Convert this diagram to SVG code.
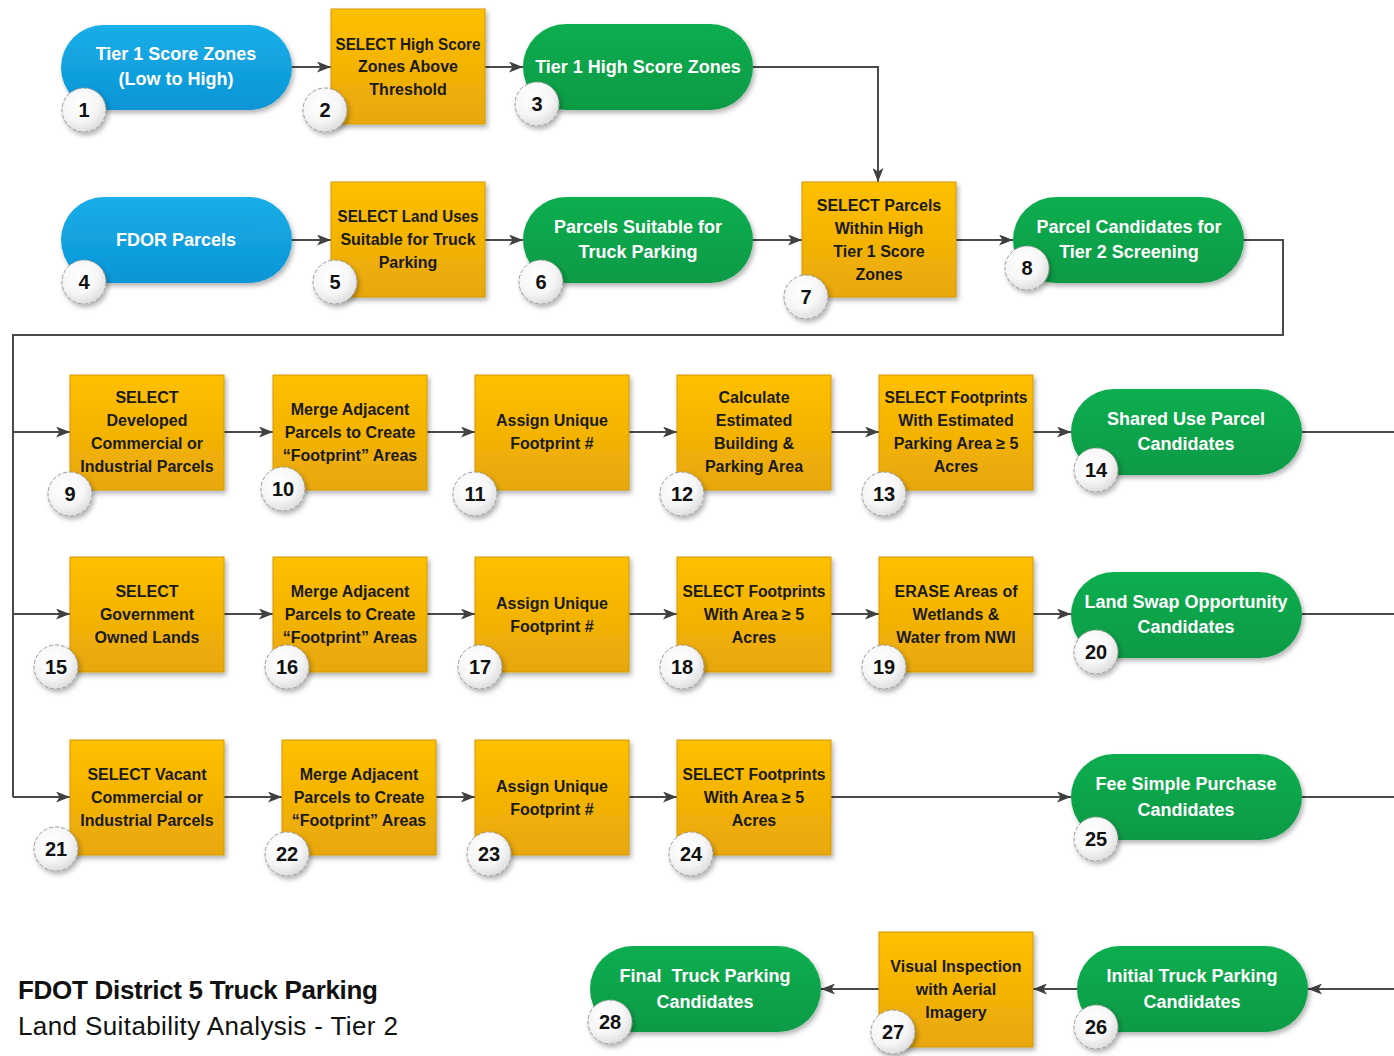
<svg xmlns="http://www.w3.org/2000/svg" width="1394" height="1056" viewBox="0 0 1394 1056">
<defs>
<linearGradient id="gOr" x1="0" y1="0" x2="0" y2="1"><stop offset="0" stop-color="#FFC000"/><stop offset="1" stop-color="#E8A70A"/></linearGradient>
<linearGradient id="gGr" x1="0" y1="0" x2="0" y2="1"><stop offset="0" stop-color="#0BAE50"/><stop offset="1" stop-color="#079A45"/></linearGradient>
<linearGradient id="gBl" x1="0" y1="0" x2="0" y2="1"><stop offset="0" stop-color="#1AAEE8"/><stop offset="1" stop-color="#0A95D6"/></linearGradient>
<radialGradient id="gCi" cx="0.4" cy="0.35" r="0.7"><stop offset="0" stop-color="#FFFFFF"/><stop offset="0.6" stop-color="#F6F6F6"/><stop offset="1" stop-color="#DADADA"/></radialGradient>
<filter id="sh" x="-10%" y="-10%" width="125%" height="130%"><feDropShadow dx="2" dy="3" stdDeviation="2.5" flood-color="#000" flood-opacity="0.3"/></filter>
<marker id="ar" markerWidth="14" markerHeight="11" refX="14" refY="5.5" orient="auto" markerUnits="userSpaceOnUse"><path d="M0,0 L14,5.5 L0,11 L3.5,5.5 z" fill="#404040"/></marker>
<style>
.con{fill:none;stroke:#4a4a4a;stroke-width:2}
.or{fill:url(#gOr);stroke:#D39A00;stroke-width:1;filter:url(#sh)}
.gr{fill:url(#gGr);filter:url(#sh)}
.bl{fill:url(#gBl);filter:url(#sh)}
.ci{fill:url(#gCi);stroke:#9a9a9a;stroke-width:1;stroke-dasharray:4 2;filter:url(#sh)}
text{font-family:"Liberation Sans",Arial,sans-serif;font-weight:bold;text-anchor:middle}
.tw{fill:#FFFFFF;font-size:18px}
.tb{fill:#1a1a1a;font-size:16px}
.num{fill:#111;font-size:20px}
.title{text-anchor:start;fill:#111;font-size:26px}
</style>
</defs>
<rect width="1394" height="1056" fill="#FFFFFF"/>
<g id="connectors">
<path class="con" d="M292,67 H331" marker-end="url(#ar)"/>
<path class="con" d="M485,67 H523" marker-end="url(#ar)"/>
<path class="con" d="M753,67 H878 V182" marker-end="url(#ar)"/>
<path class="con" d="M292,240 H331" marker-end="url(#ar)"/>
<path class="con" d="M485,240 H523" marker-end="url(#ar)"/>
<path class="con" d="M753,240 H802" marker-end="url(#ar)"/>
<path class="con" d="M956,240 H1013" marker-end="url(#ar)"/>
<path class="con" d="M1244,240 H1283 V335 H13 V797"/>
<path class="con" d="M13,432 H70" marker-end="url(#ar)"/>
<path class="con" d="M13,614 H70" marker-end="url(#ar)"/>
<path class="con" d="M13,797 H70" marker-end="url(#ar)"/>
<path class="con" d="M224,432 H273" marker-end="url(#ar)"/>
<path class="con" d="M427,432 H475" marker-end="url(#ar)"/>
<path class="con" d="M629,432 H677" marker-end="url(#ar)"/>
<path class="con" d="M831,432 H879" marker-end="url(#ar)"/>
<path class="con" d="M1033,432 H1071" marker-end="url(#ar)"/>
<path class="con" d="M1302,432 H1394"/>
<path class="con" d="M224,614 H273" marker-end="url(#ar)"/>
<path class="con" d="M427,614 H475" marker-end="url(#ar)"/>
<path class="con" d="M629,614 H677" marker-end="url(#ar)"/>
<path class="con" d="M831,614 H879" marker-end="url(#ar)"/>
<path class="con" d="M1033,614 H1071" marker-end="url(#ar)"/>
<path class="con" d="M1302,614 H1394"/>
<path class="con" d="M224,797 H282" marker-end="url(#ar)"/>
<path class="con" d="M436,797 H475" marker-end="url(#ar)"/>
<path class="con" d="M629,797 H677" marker-end="url(#ar)"/>
<path class="con" d="M831,797 H1071" marker-end="url(#ar)"/>
<path class="con" d="M1302,797 H1394"/>
<path class="con" d="M1394,989 H1308" marker-end="url(#ar)"/>
<path class="con" d="M1077,989 H1033" marker-end="url(#ar)"/>
<path class="con" d="M879,989 H821" marker-end="url(#ar)"/>
</g>
<g id="n1"><rect class="bl" x="61" y="25" width="231" height="85" rx="42.5"/><text class="tw" x="176" y="60">Tier 1 Score Zones</text><text class="tw" x="176" y="85">(Low to High)</text><circle class="ci" cx="84" cy="110" r="22"/><text class="num" x="84" y="117">1</text></g>
<g id="n2"><rect class="or" x="331" y="9" width="154" height="115"/><text class="tb" x="408" y="50" textLength="145" lengthAdjust="spacingAndGlyphs">SELECT High Score</text><text class="tb" x="408" y="72">Zones Above</text><text class="tb" x="408" y="95">Threshold</text><circle class="ci" cx="325" cy="110" r="22"/><text class="num" x="325" y="117">2</text></g>
<g id="n3"><rect class="gr" x="523" y="24" width="230" height="86" rx="43"/><text class="tw" x="638" y="73">Tier 1 High Score Zones</text><circle class="ci" cx="537" cy="104" r="22"/><text class="num" x="537" y="111">3</text></g>
<g id="n4"><rect class="bl" x="61" y="197" width="231" height="86" rx="43"/><text class="tw" x="176" y="246">FDOR Parcels</text><circle class="ci" cx="84" cy="282" r="22"/><text class="num" x="84" y="289">4</text></g>
<g id="n5"><rect class="or" x="331" y="182" width="154" height="115"/><text class="tb" x="408" y="222" textLength="141" lengthAdjust="spacingAndGlyphs">SELECT Land Uses</text><text class="tb" x="408" y="245">Suitable for Truck</text><text class="tb" x="408" y="268">Parking</text><circle class="ci" cx="335" cy="282" r="22"/><text class="num" x="335" y="289">5</text></g>
<g id="n6"><rect class="gr" x="523" y="197" width="230" height="86" rx="43"/><text class="tw" x="638" y="233">Parcels Suitable for</text><text class="tw" x="638" y="258">Truck Parking</text><circle class="ci" cx="541" cy="282" r="22"/><text class="num" x="541" y="289">6</text></g>
<g id="n7"><rect class="or" x="802" y="182" width="154" height="115"/><text class="tb" x="879" y="211">SELECT Parcels</text><text class="tb" x="879" y="234">Within High</text><text class="tb" x="879" y="257">Tier 1 Score</text><text class="tb" x="879" y="280">Zones</text><circle class="ci" cx="806" cy="297" r="22"/><text class="num" x="806" y="304">7</text></g>
<g id="n8"><rect class="gr" x="1013" y="197" width="231" height="86" rx="43"/><text class="tw" x="1129" y="233">Parcel Candidates for</text><text class="tw" x="1129" y="258">Tier 2 Screening</text><circle class="ci" cx="1027" cy="268" r="22"/><text class="num" x="1027" y="275">8</text></g>
<g id="n9"><rect class="or" x="70" y="375" width="154" height="115"/><text class="tb" x="147" y="403">SELECT</text><text class="tb" x="147" y="426">Developed</text><text class="tb" x="147" y="449">Commercial or</text><text class="tb" x="147" y="472">Industrial Parcels</text><circle class="ci" cx="70" cy="494" r="22"/><text class="num" x="70" y="501">9</text></g>
<g id="n10"><rect class="or" x="273" y="375" width="154" height="115"/><text class="tb" x="350" y="415">Merge Adjacent</text><text class="tb" x="350" y="438">Parcels to Create</text><text class="tb" x="350" y="461">“Footprint” Areas</text><circle class="ci" cx="283" cy="489" r="22"/><text class="num" x="283" y="496">10</text></g>
<g id="n11"><rect class="or" x="475" y="375" width="154" height="115"/><text class="tb" x="552" y="426">Assign Unique</text><text class="tb" x="552" y="449">Footprint #</text><circle class="ci" cx="475" cy="494" r="22"/><text class="num" x="475" y="501">11</text></g>
<g id="n12"><rect class="or" x="677" y="375" width="154" height="115"/><text class="tb" x="754" y="403">Calculate</text><text class="tb" x="754" y="426">Estimated</text><text class="tb" x="754" y="449">Building &amp;</text><text class="tb" x="754" y="472">Parking Area</text><circle class="ci" cx="682" cy="494" r="22"/><text class="num" x="682" y="501">12</text></g>
<g id="n13"><rect class="or" x="879" y="375" width="154" height="115"/><text class="tb" x="956" y="403" textLength="143" lengthAdjust="spacingAndGlyphs">SELECT Footprints</text><text class="tb" x="956" y="426">With Estimated</text><text class="tb" x="956" y="449">Parking Area ≥ 5</text><text class="tb" x="956" y="472">Acres</text><circle class="ci" cx="884" cy="494" r="22"/><text class="num" x="884" y="501">13</text></g>
<g id="n14"><rect class="gr" x="1071" y="389" width="231" height="86" rx="43"/><text class="tw" x="1186" y="425">Shared Use Parcel</text><text class="tw" x="1186" y="450">Candidates</text><circle class="ci" cx="1096" cy="470" r="22"/><text class="num" x="1096" y="477">14</text></g>
<g id="n15"><rect class="or" x="70" y="557" width="154" height="115"/><text class="tb" x="147" y="597">SELECT</text><text class="tb" x="147" y="620">Government</text><text class="tb" x="147" y="643">Owned Lands</text><circle class="ci" cx="56" cy="667" r="22"/><text class="num" x="56" y="674">15</text></g>
<g id="n16"><rect class="or" x="273" y="557" width="154" height="115"/><text class="tb" x="350" y="597">Merge Adjacent</text><text class="tb" x="350" y="620">Parcels to Create</text><text class="tb" x="350" y="643">“Footprint” Areas</text><circle class="ci" cx="287" cy="667" r="22"/><text class="num" x="287" y="674">16</text></g>
<g id="n17"><rect class="or" x="475" y="557" width="154" height="115"/><text class="tb" x="552" y="609">Assign Unique</text><text class="tb" x="552" y="632">Footprint #</text><circle class="ci" cx="480" cy="667" r="22"/><text class="num" x="480" y="674">17</text></g>
<g id="n18"><rect class="or" x="677" y="557" width="154" height="115"/><text class="tb" x="754" y="597" textLength="143" lengthAdjust="spacingAndGlyphs">SELECT Footprints</text><text class="tb" x="754" y="620">With Area ≥ 5</text><text class="tb" x="754" y="643">Acres</text><circle class="ci" cx="682" cy="667" r="22"/><text class="num" x="682" y="674">18</text></g>
<g id="n19"><rect class="or" x="879" y="557" width="154" height="115"/><text class="tb" x="956" y="597">ERASE Areas of</text><text class="tb" x="956" y="620">Wetlands &amp;</text><text class="tb" x="956" y="643">Water from NWI</text><circle class="ci" cx="884" cy="667" r="22"/><text class="num" x="884" y="674">19</text></g>
<g id="n20"><rect class="gr" x="1071" y="572" width="231" height="86" rx="43"/><text class="tw" x="1186" y="608">Land Swap Opportunity</text><text class="tw" x="1186" y="633">Candidates</text><circle class="ci" cx="1096" cy="652" r="22"/><text class="num" x="1096" y="659">20</text></g>
<g id="n21"><rect class="or" x="70" y="740" width="154" height="115"/><text class="tb" x="147" y="780">SELECT Vacant</text><text class="tb" x="147" y="803">Commercial or</text><text class="tb" x="147" y="826">Industrial Parcels</text><circle class="ci" cx="56" cy="849" r="22"/><text class="num" x="56" y="856">21</text></g>
<g id="n22"><rect class="or" x="282" y="740" width="154" height="115"/><text class="tb" x="359" y="780">Merge Adjacent</text><text class="tb" x="359" y="803">Parcels to Create</text><text class="tb" x="359" y="826">“Footprint” Areas</text><circle class="ci" cx="287" cy="854" r="22"/><text class="num" x="287" y="861">22</text></g>
<g id="n23"><rect class="or" x="475" y="740" width="154" height="115"/><text class="tb" x="552" y="792">Assign Unique</text><text class="tb" x="552" y="815">Footprint #</text><circle class="ci" cx="489" cy="854" r="22"/><text class="num" x="489" y="861">23</text></g>
<g id="n24"><rect class="or" x="677" y="740" width="154" height="115"/><text class="tb" x="754" y="780" textLength="143" lengthAdjust="spacingAndGlyphs">SELECT Footprints</text><text class="tb" x="754" y="803">With Area ≥ 5</text><text class="tb" x="754" y="826">Acres</text><circle class="ci" cx="691" cy="854" r="22"/><text class="num" x="691" y="861">24</text></g>
<g id="n25"><rect class="gr" x="1071" y="754" width="231" height="86" rx="43"/><text class="tw" x="1186" y="790">Fee Simple Purchase</text><text class="tw" x="1186" y="816">Candidates</text><circle class="ci" cx="1096" cy="839" r="22"/><text class="num" x="1096" y="846">25</text></g>
<g id="n26"><rect class="gr" x="1077" y="946" width="231" height="86" rx="43"/><text class="tw" x="1192" y="982">Initial Truck Parking</text><text class="tw" x="1192" y="1008">Candidates</text><circle class="ci" cx="1096" cy="1027" r="22"/><text class="num" x="1096" y="1034">26</text></g>
<g id="n27"><rect class="or" x="879" y="932" width="154" height="115"/><text class="tb" x="956" y="972">Visual Inspection</text><text class="tb" x="956" y="995">with Aerial</text><text class="tb" x="956" y="1018">Imagery</text><circle class="ci" cx="893" cy="1032" r="22"/><text class="num" x="893" y="1039">27</text></g>
<g id="n28"><rect class="gr" x="590" y="946" width="231" height="86" rx="43"/><text class="tw" x="705" y="982" xml:space="preserve">Final  Truck Parking</text><text class="tw" x="705" y="1008">Candidates</text><circle class="ci" cx="610" cy="1022" r="22"/><text class="num" x="610" y="1029">28</text></g>
<g id="title"><text class="title" x="18" y="999" textLength="360">FDOT District 5 Truck Parking</text><text class="title" x="18" y="1035" style="font-weight:normal" textLength="380">Land Suitability Analysis - Tier 2</text></g>
</svg>
